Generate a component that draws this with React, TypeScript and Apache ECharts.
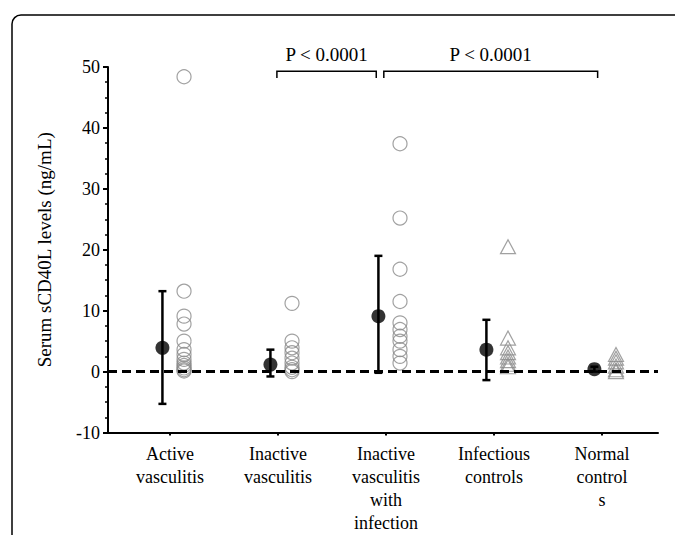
import React, { useEffect, useRef } from "react";
import * as echarts from "echarts";

const categories = [
  "Active\nvasculitis",
  "Inactive\nvasculitis",
  "Inactive\nvasculitis\nwith\ninfection",
  "Infectious\ncontrols",
  "Normal\ncontrol\ns",
];
const yTicks = [-10, 0, 10, 20, 30, 40, 50];

const means = [3.9, 1.15, 9.1, 3.6, 0.4];
const errUpper = [13.2, 3.6, 19.0, 8.5, 0.8];
const errLower = [-5.3, -0.8, -0.2, -1.4, 0.0];

const activeVasculitis = [48.4, 13.2, 9.1, 7.8, 5.0, 3.6, 2.8, 2.0, 1.4, 1.0, 0.6, 0.3, 0.1];
const inactiveVasculitis = [11.2, 5.0, 3.9, 3.1, 2.2, 1.4, 0.7, 0.3, 0.0];
const inactiveWithInfection = [37.4, 25.2, 16.8, 11.5, 8.0, 6.9, 5.8, 5.0, 3.6, 2.5, 1.4];
const infectiousControls = [20.5, 5.5, 3.9, 3.1, 2.4, 1.8, 1.2, 0.8];
const normalControls = [2.8, 2.2, 1.6, 0.9, 0.3, 0.0];

const bracketFrom = [0.99, 1.98];
const bracketTo = [1.91, 3.96];
const bracketTop = 49.3;
const bracketBottom = 48.2;
const pLabels = ["P < 0.0001", "P < 0.0001"];

const MEAN_OFFSET = -0.07;
const POINT_OFFSET = 0.13;
const FONT = "'Liberation Serif', 'Times New Roman', serif";

export default function App() {
  const ref = useRef<HTMLDivElement>(null);
  useEffect(() => {
    if (!ref.current) return;
    const chart = echarts.init(ref.current, null, { renderer: "svg" });

    const pointStyle = {
      color: "rgba(255,255,255,0)",
      borderColor: "#8a8a8a",
      borderWidth: 1.2,
    };
    const groups = [
      { data: activeVasculitis, symbol: "circle" },
      { data: inactiveVasculitis, symbol: "circle" },
      { data: inactiveWithInfection, symbol: "circle" },
      { data: infectiousControls, symbol: "triangle" },
      { data: normalControls, symbol: "triangle" },
    ];
    const pointSeries = groups.map((g, i) => ({
      type: "scatter",
      symbol: g.symbol,
      symbolSize: g.symbol === "circle" ? 14 : [15, 14],
      itemStyle: pointStyle,
      z: 3,
      data: g.data.map((v) => [i + POINT_OFFSET, v]),
    }));

    const option: any = {
      animation: false,
      backgroundColor: "#fff",
      textStyle: { fontFamily: FONT },
      graphic: [
        {
          type: "rect",
          shape: { x: 12, y: 15, width: 720, height: 600, r: 9 },
          style: { fill: "none", stroke: "#000", lineWidth: 1.5 },
          z: -1,
        },
      ],
      grid: {
        left: 108,
        right: 17,
        top: 67,
        bottom: 102.5,
        containLabel: false,
        outerBoundsMode: "none",
      },
      xAxis: {
        type: "value",
        min: -0.574,
        max: 4.519,
        axisLine: { show: true, onZero: false, lineStyle: { color: "#000", width: 2 } },
        axisTick: {
          show: true,
          customValues: [0, 1, 2, 3, 4],
          length: 3,
          lineStyle: { color: "#000", width: 2 },
        },
        axisLabel: {
          customValues: [0, 1, 2, 3, 4],
          formatter: (v: number) => categories[Math.round(v)] ?? "",
          color: "#000",
          fontFamily: FONT,
          fontSize: 18,
          lineHeight: 23,
          margin: 10,
          align: "center",
        },
        splitLine: { show: false },
      },
      yAxis: {
        type: "value",
        min: yTicks[0],
        max: yTicks[yTicks.length - 1],
        interval: 10,
        name: "Serum sCD40L levels (ng/mL)",
        nameLocation: "middle",
        nameGap: 54,
        nameTextStyle: { color: "#000", fontFamily: FONT, fontSize: 19 },
        axisLine: { show: true, onZero: false, lineStyle: { color: "#000", width: 2 } },
        axisTick: { show: true, length: 5, lineStyle: { color: "#000", width: 2 } },
        minorTick: { show: true, splitNumber: 4, length: 3, lineStyle: { color: "#000", width: 1.5 } },
        axisLabel: { color: "#000", fontFamily: FONT, fontSize: 18, margin: 8 },
        splitLine: { show: false },
        minorSplitLine: { show: false },
      },
      series: [
        {
          type: "line",
          data: [],
          z: 1,
          markLine: {
            silent: true,
            symbol: "none",
            label: { show: false },
            lineStyle: { color: "#000", width: 3, type: [9, 5] },
            data: [{ yAxis: 0 }],
          },
        },
        ...pointSeries,
        {
          type: "custom",
          z: 4,
          data: means.map((m, i) => [i + MEAN_OFFSET, errUpper[i], errLower[i]]),
          renderItem: (params: any, api: any) => {
            const x = api.value(0);
            const top = api.coord([x, api.value(1)]);
            const bot = api.coord([x, api.value(2)]);
            const cap = 4;
            const st = { stroke: "#000", lineWidth: 2.5 };
            return {
              type: "group",
              children: [
                { type: "line", shape: { x1: top[0], y1: top[1], x2: bot[0], y2: bot[1] }, style: st },
                { type: "line", shape: { x1: top[0] - cap, y1: top[1], x2: top[0] + cap, y2: top[1] }, style: st },
                { type: "line", shape: { x1: bot[0] - cap, y1: bot[1], x2: bot[0] + cap, y2: bot[1] }, style: st },
              ],
            };
          },
        },
        {
          type: "scatter",
          symbol: "circle",
          symbolSize: 14,
          z: 5,
          itemStyle: { color: "#000" },
          data: means.map((m, i) => [i + MEAN_OFFSET, m]),
        },
        {
          type: "custom",
          z: 5,
          clip: false,
          data: bracketFrom.map((f, i) => [f, bracketTo[i], bracketTop, bracketBottom, i]),
          renderItem: (params: any, api: any) => {
            const a = api.coord([api.value(0), api.value(2)]);
            const b = api.coord([api.value(1), api.value(2)]);
            const a2 = api.coord([api.value(0), api.value(3)]);
            const st = { stroke: "#000", lineWidth: 1.5, fill: "none" };
            return {
              type: "group",
              children: [
                {
                  type: "polyline",
                  shape: { points: [[a[0], a2[1]], a, b, [b[0], a2[1]]] },
                  style: st,
                },
                {
                  type: "text",
                  style: {
                    text: pLabels[api.value(4)],
                    x: (a[0] + b[0]) / 2,
                    y: a[1] - 7,
                    align: "center",
                    verticalAlign: "bottom",
                    fill: "#000",
                    font: `19px ${FONT}`,
                  },
                },
              ],
            };
          },
        },
      ],
    };
    chart.setOption(option);
    return () => chart.dispose();
  }, []);
  return (
    <div
      ref={ref}
      style={{ position: "fixed", left: 0, top: 0, width: 675, height: 535, background: "#fff" }}
    />
  );
}
